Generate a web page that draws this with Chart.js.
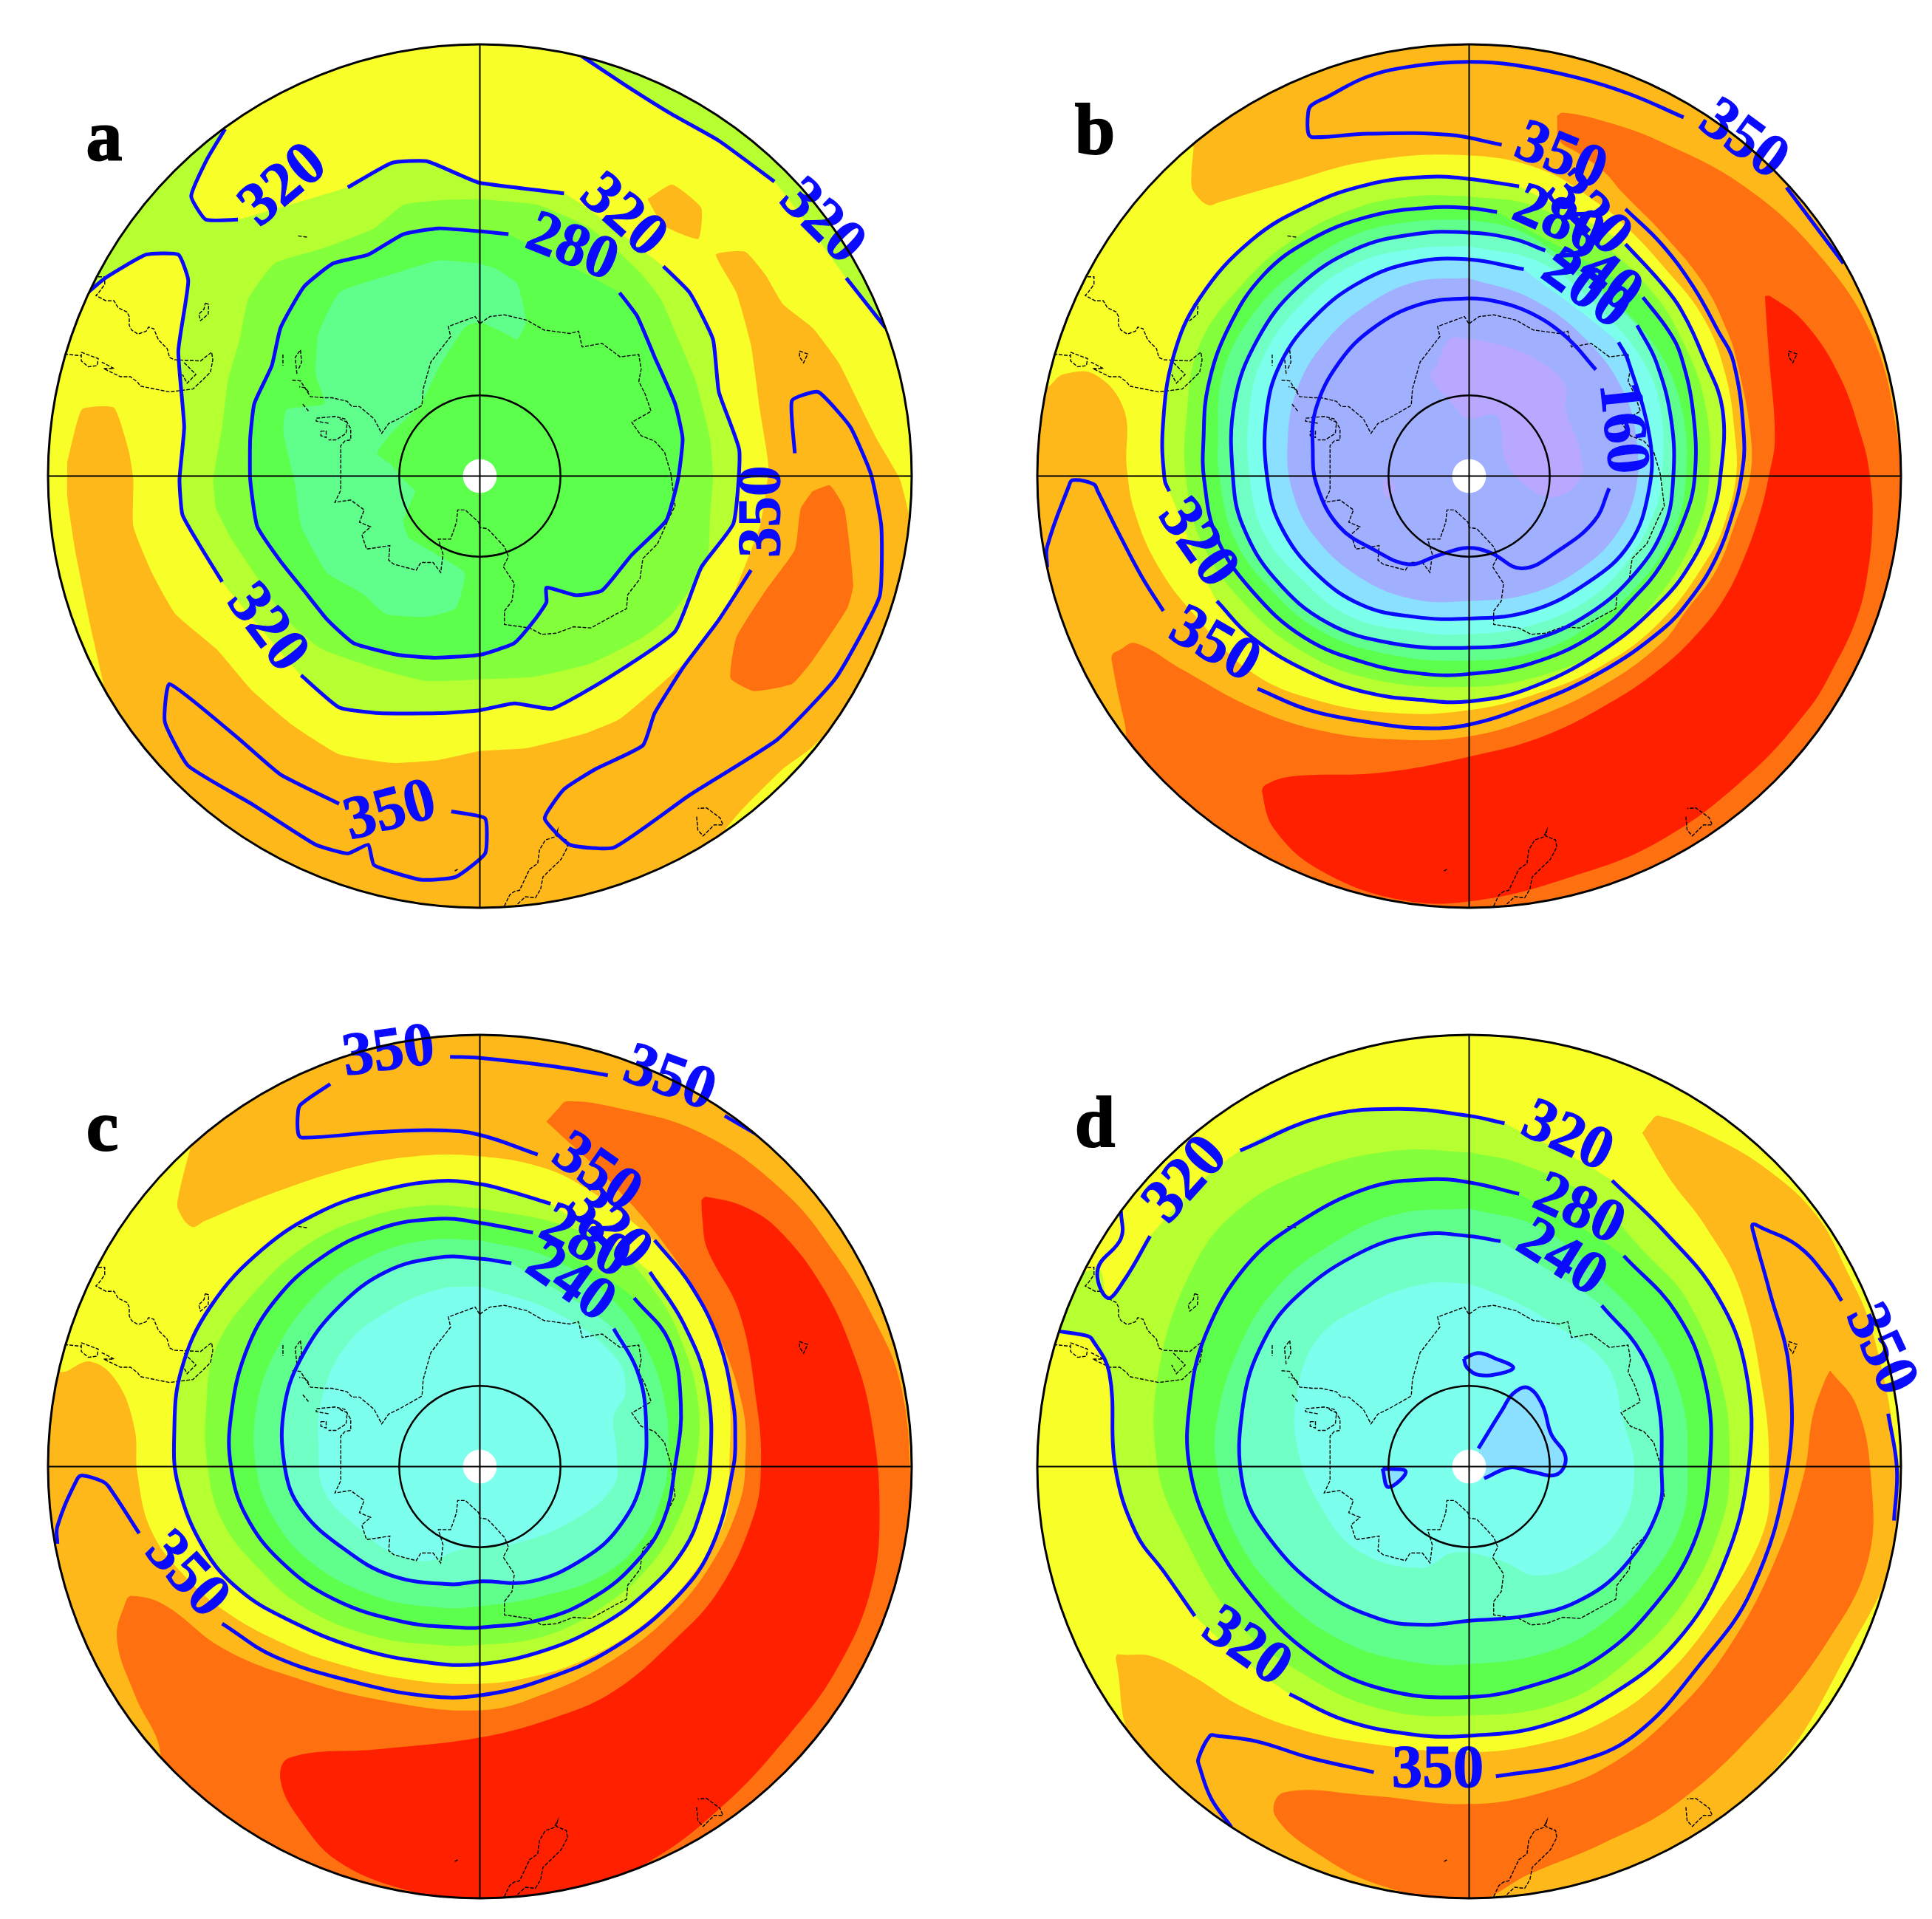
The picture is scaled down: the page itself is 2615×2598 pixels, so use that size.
<!DOCTYPE html>
<html>
<head>
<meta charset="utf-8">
<title>Polar maps a-d</title>
<style>
  html, body { margin: 0; background: #fff; }
  canvas { position: absolute; }
</style>
<script src="https://cdn.jsdelivr.net/npm/chart.js@4/dist/chart.umd.min.js"></script>
</head>
<body>
<script>
const YELLOW = "#F8FF28", ORANGE = "#FFB81A", DARK_ORANGE = "#FF7010", RED = "#FF2000";
const YGREEN = "#B6FF30", LGREEN = "#84FF3C", GREEN = "#5CFF4C", SEAFOAM = "#60FF8C";
const AQUA = "#70FFC4", CYAN = "#7CFFEC", LBLUE = "#8CE0FF", PERI = "#A0B0FF", VIOLET = "#B8A8FF";
const LINE_BLUE = "#0A0AFF";

// coast, read on panel a's grid and shared by all four maps
const coastMain = [[771,503],[788,491],[813,488],[851,497],[881,514],[925,520],[940,516],[946,543],[980,537],[1011,560],[1043,556],[1047,581],[1043,602],[1054,624],[1064,653],[1031,672],[1047,695],[1070,704],[1087,723],[1098,760],[1105,815],[1095,835],[1075,880],[1050,905],[1045,940],[1024,967],[1022,991],[999,1003],[961,1024],[931,1022],[902,1033],[877,1035],[856,1024],[813,1018],[813,995],[826,978],[830,948],[811,919],[820,902],[813,885],[784,854],[771,852],[769,843],[746,822],[733,822],[731,843],[721,872],[700,872],[708,898],[704,929],[691,912],[670,912],[662,925],[624,915],[615,908],[617,883],[577,889],[569,864],[584,851],[565,843],[573,822],[550,805],[523,809],[533,788],[533,716],[533,712],[540,704],[550,702],[550,683],[540,666],[523,662],[491,665],[491,670],[514,674]];
const coastWest = [[450,600],[464,601],[481,628],[504,630],[518,630],[544,636],[552,645],[565,645],[577,655],[590,666],[603,691],[615,674],[632,666],[672,643],[674,615],[687,569],[721,525],[717,508],[763,491],[771,504]];
const coastPeninsula = [[461,580],[466,569],[464,548],[455,561],[458,590]];
const coastIsle1 = [[434,556],[434,575]];
const coastTip = [[478,620],[472,613],[462,611]];
const coastBay = [[468,641],[478,653]];
const coastRonne = [[531,666],[544,672],[542,691],[525,702],[512,702]];
const coastBerkner = [[499,687],[508,687],[508,698],[499,695],[499,687]];
const coastAmerica = [[118,423],[129,423],[129,436],[118,451],[114,455],[131,464],[145,464],[152,476],[167,483],[171,491],[171,506],[175,514],[186,521],[200,516],[204,509],[213,512],[221,531],[236,546],[240,561],[249,565],[293,567],[312,552],[314,565],[310,586],[295,601],[280,615],[240,620],[190,610],[185,603],[173,594],[156,594],[127,580],[145,580],[124,569]];
const coastChile = [[60,555],[88,558]];
const coastFalkland = [[89,552],[118,563],[116,575],[101,577],[89,567],[89,552]];
const coastFuego = [[265,570],[285,590],[270,605],[262,590]];
const coastGeorgia = [[301,468],[307,470],[306,487],[293,498],[290,487],[299,478],[301,468]];
const coastZealand = [[813,1500],[822,1481],[830,1475],[839,1473],[856,1437],[870,1427],[873,1404],[883,1387],[898,1382],[904,1370],[902,1380],[919,1387],[921,1399],[910,1420],[879,1450],[875,1471],[866,1486],[849,1484],[832,1500]];
const coastTasmania = [[1142,1347],[1144,1370],[1153,1380],[1172,1361],[1187,1361],[1182,1349],[1159,1332],[1144,1333]];
const coastAfrica = [[1318,550],[1332,555],[1325,570],[1318,560],[1318,550]];
const coastIsle2 = [[460,353],[475,355]];
const coastIsle3 = [[728,1440],[733,1437]];
const coastLines = [coastMain, coastWest, coastPeninsula, coastIsle1, coastTip, coastBay, coastRonne, coastBerkner, coastAmerica, coastChile, coastFalkland, coastFuego, coastGeorgia, coastZealand, coastTasmania, coastAfrica, coastIsle2, coastIsle3];

// ---- panel a
const a320Corner = [[335,170],[305,220],[277,285],[302,325],[357,325]];
const a320Top = [[545,270],[620,228],[680,225],[740,250],[770,262],[915,280]];
const a320Right = [[1085,405],[1130,450],[1170,530],[1180,620],[1215,720],[1205,845],[1150,920],[1105,1030],[990,1110],[895,1162],[830,1153],[770,1165],[700,1170],[600,1170],[530,1160],[465,1105]];
const a320Left = [[330,945],[290,880],[262,830],[257,770],[265,680],[255,550],[272,430],[255,385],[200,385],[130,425],[100,450]];
const a320Far1 = [[945,45],[1020,95],[1100,145],[1180,190],[1275,260]];
const a320Far2 = [[1398,425],[1465,510]];
const a280 = [[820,350],[771,345],[700,340],[640,350],[580,385],[520,400],[470,440],[430,510],[415,575],[385,640],[378,700],[378,770],[390,850],[430,910],[470,960],[510,1010],[555,1050],[630,1070],[695,1075],[771,1070],[830,1050],[865,1010],[885,980],[885,955],[935,968],[980,960],[1030,900],[1090,840],[1110,770],[1118,700],[1105,640],[1070,560],[1040,490],[1010,450]];
const a350Right = [[1235,925],[1180,1010],[1120,1090],[1070,1170],[1050,1225],[970,1265],[915,1300],[882,1350],[925,1395],[1000,1400],[1130,1310],[1280,1215],[1380,1110],[1455,970],[1458,850],[1440,760],[1405,680],[1350,620],[1305,635],[1310,725]];
const a350Left = [[530,1325],[430,1275],[360,1215],[240,1120],[232,1185],[272,1260],[380,1325],[490,1395],[545,1410],[580,1395],[590,1430],[670,1455],[730,1450],[780,1410],[780,1350],[722,1338]];
const aOrange = [[65,740],[90,650],[145,647],[170,720],[178,770],[178,850],[210,930],[250,1000],[320,1060],[380,1130],[450,1190],[530,1240],[620,1255],[700,1250],[770,1235],[850,1230],[950,1205],[1010,1180],[1070,1130],[1130,1075],[1190,1000],[1250,850],[1265,750],[1250,650],[1235,540],[1210,450],[1175,385],[1225,380],[1260,420],[1290,470],[1340,510],[1385,570],[1420,640],[1450,700],[1490,770],[1510,860],[1490,1000],[1420,1140],[1340,1228],[1290,1265],[1215,1340],[1100,1480],[1000,1560],[500,1560],[300,1400],[150,1200],[110,1045],[80,900],[65,800]];
const aOrangeSmall = [[1058,290],[1100,265],[1150,305],[1145,358],[1085,335]];
const aDarkOrange = [[1340,790],[1370,780],[1395,820],[1410,950],[1400,990],[1340,1080],[1305,1120],[1240,1132],[1200,1110],[1210,1040],[1260,960],[1310,890],[1320,820]];
const aYGreenMain = [].concat(a320Top, a320Right, a320Left, [[40,250],[250,80]], a320Corner);
const aYGreenFar = [].concat(a320Far1, a320Far2, [[1560,450],[1400,100],[1000,-20]]);
const aLGreen = [[770,290],[700,292],[640,300],[590,340],[500,375],[420,400],[375,460],[360,530],[340,600],[330,680],[315,770],[320,820],[345,870],[385,930],[440,1010],[500,1060],[600,1095],[680,1115],[771,1112],[860,1108],[960,1085],[1050,1040],[1100,1000],[1160,910],[1165,830],[1170,770],[1165,700],[1140,600],[1115,540],[1080,460],[1040,410],[960,340],[870,300]];
const aSeafoam = [[770,400],[700,395],[600,425],[530,450],[495,520],[490,590],[505,640],[440,650],[435,690],[455,780],[465,850],[510,930],[570,965],[610,1000],[680,1005],[730,990],[745,930],[700,900],[650,870],[640,840],[660,790],[640,770],[620,745],[595,725],[620,690],[670,640],[700,580],[745,510],[770,500],[815,520],[835,530],[850,500],[835,435],[800,410]];
const aLabels = [["320",436,268,-40],["320",1015,320,42],["280",928,375,22],["320",1355,330,45],["350",1256,825,-90],["320",405,1025,53],["350",618,1340,-15]];

// ---- panel b
const b350Top = [[1143,150],[1050,110],[960,82],[850,60],[771,55],[680,62],[600,80],[530,115],[502,130],[497,142],[497,176],[505,184],[600,178],[740,180],[830,197]];
const b350Far = [[1320,270],[1418,400]];
const b350Corner = [[248,995],[210,935],[165,850],[135,790],[128,778],[92,771],[85,782],[48,885],[48,920]];
const b350Ring = [[410,1128],[500,1165],[600,1185],[680,1195],[771,1190],[880,1155],[1000,1100],[1105,1028],[1155,974],[1198,906],[1227,830],[1242,767],[1247,700],[1229,569],[1202,515],[1159,439],[1105,367],[1043,307]];
const b320Left = [[860,268],[771,255],[700,252],[600,265],[500,300],[400,360],[310,460],[265,560],[247,680],[250,770],[258,790]];
const b320Right = [[340,978],[400,1040],[500,1100],[600,1135],[700,1148],[771,1150],[870,1130],[1000,1065],[1105,978],[1160,906],[1191,835],[1206,767],[1210,650],[1177,560],[1139,480],[1105,434],[1043,367]];
const b280 = [[822,312],[771,305],[700,305],[600,320],[500,360],[420,420],[360,510],[325,610],[317,700],[318,770],[340,870],[400,960],[490,1040],[600,1085],[700,1103],[771,1103],[880,1085],[990,1035],[1060,970],[1105,915],[1145,835],[1162,767],[1160,660],[1139,560],[1117,515],[1073,458]];
const b240 = [[905,378],[850,358],[771,347],[680,350],[580,375],[480,440],[410,530],[370,640],[368,770],[385,850],[440,940],[530,1015],[640,1050],[771,1058],[880,1045],[980,1000],[1060,930],[1110,850],[1125,770],[1122,670],[1096,569],[1063,506]];
const b200 = [[868,410],[771,393],[680,398],[590,430],[510,490],[450,570],[425,660],[427,770],[450,850],[510,930],[590,985],[680,1005],[771,1008],[880,995],[980,945],[1050,880],[1083,790],[1085,700],[1047,565],[1031,535]];
const b160 = [[992,582],[940,525],[880,485],[820,465],[771,460],[690,470],[610,510],[550,570],[510,650],[505,720],[512,780],[550,850],[610,890],[670,915],[720,900],[770,887],[810,895],[865,922],[930,890],[990,840],[1015,785]];
const bYellow = [[300,200],[296,262],[302,280],[325,300],[345,295],[450,265],[600,225],[770,215],[900,240],[1000,300],[1045,338],[1108,405],[1177,493],[1215,590],[1232,700],[1233,767],[1215,840],[1189,898],[1105,1011],[1000,1090],[880,1140],[770,1165],[650,1170],[520,1150],[400,1100],[300,1000],[240,920],[200,830],[185,750],[180,650],[130,590],[75,590],[45,610],[10,500],[150,200]];
const bDarkOrange = [[925,148],[935,142],[1000,155],[1100,190],[1250,270],[1380,390],[1470,530],[1510,690],[1515,800],[1500,950],[1420,1130],[1300,1290],[1150,1420],[1000,1490],[800,1530],[500,1520],[200,1250],[180,1180],[160,1085],[160,1070],[172,1062],[200,1050],[280,1095],[400,1160],[520,1200],[650,1215],[771,1210],[880,1180],[1000,1125],[1105,1050],[1147,995],[1198,927],[1231,847],[1257,767],[1258,690],[1235,569],[1219,518],[1177,434],[1108,350],[1037,278],[1007,244],[960,210],[930,190]];
const bRed = [[1283,456],[1292,456],[1350,500],[1410,590],[1450,700],[1464,767],[1468,843],[1458,940],[1439,1012],[1401,1092],[1358,1163],[1250,1280],[1100,1390],[950,1450],[790,1490],[660,1490],[520,1440],[440,1370],[418,1305],[425,1292],[470,1278],[620,1272],[771,1245],[900,1210],[1020,1150],[1105,1092],[1160,1041],[1210,978],[1248,902],[1276,822],[1289,767],[1300,700],[1290,560],[1285,490]];
const bYGreen = [].concat(b320Left, b320Right);
const bLGreen = [[771,285],[680,285],[580,305],[470,360],[380,440],[310,540],[288,660],[287,770],[315,880],[385,980],[480,1060],[600,1110],[771,1125],[900,1105],[1010,1055],[1100,970],[1165,860],[1187,770],[1180,640],[1140,530],[1090,450],[1000,365],[880,300]];
const bSeafoam = [[771,325],[680,328],[580,350],[480,410],[400,490],[350,590],[342,700],[345,770],[370,870],[430,955],[520,1030],[640,1070],[771,1080],[890,1065],[990,1015],[1070,945],[1125,860],[1147,770],[1140,650],[1100,550],[1030,470],[920,380],[850,340]];
const bCyan = [[771,370],[680,375],[580,400],[490,465],[420,560],[395,660],[397,770],[420,860],[480,935],[570,1005],[680,1030],[771,1035],[880,1020],[980,975],[1050,905],[1095,820],[1105,770],[1105,660],[1075,570],[1000,480],[900,400]];
const bPeri = [[771,425],[680,432],[600,470],[530,530],[480,610],[462,700],[470,790],[510,870],[590,940],[680,975],[771,978],[880,965],[970,920],[1030,860],[1060,790],[1063,710],[1040,620],[975,530],[880,460]];
const bViolet = [[771,528],[740,530],[718,575],[708,595],[745,640],[771,665],[820,660],[830,690],[835,735],[870,780],[920,800],[965,770],[965,720],[940,650],[940,610],[900,570],[830,540]];
const bVioletSmall = [[625,770],[640,770],[645,790],[630,800]];
const bLabels = [["350",1245,190,36],["350",931,219,22],["320",978,316,45],["280",927,329,24],["240",994,417,38],["200",974,446,36],["160",1035,682,84],["320",305,880,55],["350",335,1055,30]];

// ---- panel c
const c350Top = [[990,110],[900,95],[771,80],[720,78]];
const c350Inner = [[515,125],[465,160],[460,172],[460,210],[468,218],[600,208],[700,205],[771,213],[870,247]];
const c350Far = [[1190,180],[1250,215]];
const c350Corner = [[188,902],[135,820],[125,812],[92,802],[82,808],[48,890],[48,920]];
const c350Ring = [[330,1058],[420,1115],[560,1160],[680,1183],[771,1182],[880,1155],[1000,1100],[1110,1010],[1170,920],[1205,786],[1208,730],[1205,680],[1180,570],[1130,470],[1070,395]];
const c320 = [[892,332],[820,310],[771,298],[700,293],[600,310],[500,345],[400,410],[310,510],[260,620],[248,730],[255,820],[300,930],[360,1000],[440,1050],[560,1100],[680,1125],[771,1128],[880,1105],[980,1060],[1060,1000],[1120,930],[1150,860],[1165,786],[1160,650],[1120,540],[1062,450]];
const c280 = [[862,382],[771,365],[700,358],[600,375],[500,425],[420,500],[370,590],[345,700],[345,786],[370,870],[430,950],[520,1015],[640,1055],[740,1065],[771,1065],[880,1050],[970,1010],[1040,950],[1085,880],[1105,786],[1115,680],[1095,570],[1035,495]];
const c240 = [[825,435],[771,427],[700,425],[610,450],[530,510],[470,590],[437,680],[437,786],[465,860],[540,930],[620,975],[720,990],[771,985],[860,985],[950,945],[1010,890],[1048,810],[1055,700],[1040,620],[1000,548]];
const cYellow = [[285,200],[254,325],[256,345],[278,372],[300,362],[400,320],[550,270],[660,250],[771,250],[880,270],[960,310],[1040,370],[1090,420],[1160,520],[1195,640],[1198,786],[1190,880],[1130,980],[1050,1060],[950,1120],[860,1150],[771,1162],[650,1155],[520,1125],[430,1090],[340,1040],[270,980],[210,900],[185,800],[180,720],[150,640],[105,605],[50,620],[10,500],[150,220]];
const cDarkOrange = [[885,190],[905,168],[920,155],[1000,165],[1150,210],[1290,310],[1380,420],[1450,540],[1490,640],[1507,786],[1500,900],[1470,1030],[1400,1180],[1300,1310],[1180,1420],[1060,1490],[950,1545],[200,1560],[225,1290],[180,1180],[150,1085],[165,1020],[175,1010],[230,1025],[330,1100],[450,1150],[600,1190],[771,1208],[880,1180],[1000,1120],[1100,1040],[1170,950],[1215,850],[1225,786],[1220,680],[1170,540],[1100,420],[1000,300]];
const cRed = [[1150,326],[1158,320],[1230,340],[1290,385],[1360,480],[1410,590],[1440,700],[1455,860],[1440,1000],[1380,1140],[1300,1250],[1190,1370],[1060,1470],[950,1510],[771,1540],[650,1520],[530,1470],[465,1400],[430,1330],[445,1290],[600,1275],[771,1255],[900,1220],[1000,1175],[1100,1090],[1180,1000],[1240,870],[1252,786],[1245,680],[1215,520],[1160,410],[1152,360]];
const cLGreen = [[771,340],[680,335],[580,355],[480,400],[390,480],[320,580],[303,680],[305,786],[330,880],[390,960],[470,1030],[590,1080],[700,1095],[771,1095],[880,1080],[980,1030],[1060,960],[1110,880],[1140,786],[1145,680],[1120,580],[1075,490],[1000,410],[900,365]];
const cSeafoam = [[771,395],[680,395],[580,425],[490,490],[420,590],[388,690],[388,786],[415,870],[480,950],[590,1010],[700,1030],[771,1028],[880,1010],[980,975],[1050,910],[1085,830],[1092,786],[1090,690],[1060,590],[1000,500],[890,425]];
const cCyan = [[771,475],[700,480],[610,520],[540,580],[500,670],[495,750],[505,830],[560,890],[620,935],[680,950],[740,930],[830,920],[930,880],[1000,820],[1005,760],[1000,700],[1020,660],[1005,600],[900,520]];
const cLabels = [["350",615,72,-8],["350",1095,118,20],["350",970,280,35],["320",990,375,45],["280",950,400,28],["240",925,470,35],["350",268,975,48]];

// ---- panel d
const d320Top = [[835,193],[774,180],[650,168],[520,182],[380,240]];
const d320Corner = [[225,388],[180,465],[152,495],[135,445],[175,392],[175,345]];
const d320Left = [[65,552],[115,560],[125,566],[155,625],[165,787],[200,900],[250,970],[302,1045]];
const d320Right = [[465,1180],[560,1225],[680,1250],[774,1252],[900,1235],[1020,1180],[1130,1090],[1210,960],[1255,787],[1250,620],[1200,490],[1110,380],[1020,292]];
const d280 = [[860,315],[774,295],[700,290],[600,305],[480,365],[390,440],[320,560],[293,680],[293,787],[330,900],[400,1010],[500,1110],[620,1170],[774,1185],[900,1160],[1000,1115],[1090,1030],[1160,920],[1188,787],[1180,640],[1130,520],[1040,422]];
const d240 = [[828,397],[774,388],[690,385],[590,415],[480,490],[420,570],[385,680],[385,820],[430,910],[520,1000],[620,1050],[700,1060],[774,1053],[870,1045],[960,1020],[1040,960],[1100,860],[1105,787],[1100,680],[1070,590],[1002,508]];
const d350Left = [[610,1315],[500,1290],[410,1262],[340,1252],[328,1252],[308,1292],[310,1305],[330,1360],[365,1410]];
const d350Right = [[820,1322],[950,1300],[1060,1250],[1170,1130],[1260,1000],[1320,800],[1325,620],[1290,480],[1264,385],[1262,368],[1278,374],[1340,405],[1390,460],[1415,500]];
const d350Far = [[1495,695],[1510,790],[1505,880]];
const dLowA = [[765,600],[790,590],[820,600],[850,615],[830,625],[790,628],[770,615],[765,600]];
const dLowB = [[790,755],[830,690],[850,660],[875,650],[900,680],[915,730],[940,770],[925,800],[880,795],[845,788],[800,807]];
const dLowC = [[625,790],[665,795],[635,822],[625,790]];
const dOrange = [[1072,210],[1085,192],[1100,180],[1200,220],[1290,275],[1370,350],[1420,440],[1470,560],[1510,790],[1500,950],[1430,1100],[1300,1310],[1100,1480],[900,1550],[774,1560],[550,1520],[360,1410],[200,1270],[167,1125],[168,1112],[180,1112],[230,1115],[300,1150],[380,1200],[480,1240],[600,1265],[774,1280],[900,1265],[1000,1230],[1100,1160],[1200,1040],[1280,900],[1290,787],[1280,660],[1240,480],[1180,370],[1120,290]];
const dDarkOrange = [[1395,620],[1440,680],[1465,800],[1460,950],[1390,1090],[1280,1230],[1130,1370],[1000,1440],[880,1490],[774,1540],[620,1510],[520,1460],[440,1390],[455,1350],[600,1355],[774,1370],[900,1350],[1020,1300],[1130,1210],[1220,1100],[1300,950],[1350,800],[1365,700],[1385,640]];
const dYGreen = [].concat(d320Top, [[225,388],[180,465],[152,495],[135,445],[50,500]], d320Left, d320Right);
const dLGreen = [[774,243],[650,240],[500,275],[380,340],[300,440],[240,620],[238,787],[280,900],[370,1050],[480,1140],[620,1205],[774,1217],[930,1195],[1050,1120],[1150,1010],[1210,880],[1222,787],[1210,650],[1150,500],[1080,420],[980,320],[860,262]];
const dSeafoam = [[774,340],[650,350],[540,400],[440,480],[370,600],[338,720],[340,787],[370,900],[450,1010],[560,1090],[680,1125],[774,1128],[900,1110],[1000,1060],[1090,970],[1140,880],[1150,787],[1140,670],[1090,560],[1010,470],[900,375]];
const dCyan = [[774,470],[700,470],[600,505],[510,570],[475,680],[480,760],[510,840],[580,930],[690,962],[750,935],[830,950],[890,975],[970,950],[1040,880],[1058,787],[1040,710],[1010,610],[920,540],[850,500]];
const dLabels = [["320",288,292,-48],["320",942,218,25],["280",962,344,25],["240",932,428,32],["320",390,1100,35],["350",720,1313,0],["350",1480,585,65]];

const panels = [
  { letter: "a", letterAt: [128, 190], left: 65, top: 60, xRange: [32, 1510], yRange: [25, 1503], base: YELLOW, tension: 0.15,
    fills: [[aOrange, ORANGE], [aOrangeSmall, ORANGE], [aDarkOrange, DARK_ORANGE], [aYGreenFar, YGREEN], [aYGreenMain, YGREEN], [aLGreen, LGREEN], [a280, GREEN], [aSeafoam, SEAFOAM]],
    lines: [a320Corner, a320Top, a320Right, a320Left, a320Far1, a320Far2, a280, a350Right, a350Left], labels: aLabels },
  { letter: "b", letterAt: [130, 180], left: 1404, top: 60, xRange: [31, 1517], yRange: [25, 1503], base: ORANGE, tension: 0.4,
    fills: [[bDarkOrange, DARK_ORANGE], [bRed, RED], [bYellow, YELLOW], [bYGreen, YGREEN], [bLGreen, LGREEN], [b280, GREEN], [bSeafoam, SEAFOAM], [b240, AQUA], [bCyan, CYAN], [b200, LBLUE], [bPeri, PERI], [bViolet, VIOLET], [bVioletSmall, VIOLET]],
    lines: [b350Top, b350Far, b350Corner, b350Ring, b320Left, b320Right, b280, b240, b200, b160], labels: bLabels },
  { letter: "c", letterAt: [125, 207], left: 65, top: 1401, xRange: [32, 1510], yRange: [40, 1533], base: ORANGE, tension: 0.4,
    fills: [[cDarkOrange, DARK_ORANGE], [cRed, RED], [cYellow, YELLOW], [c320, YGREEN], [cLGreen, LGREEN], [c280, GREEN], [cSeafoam, SEAFOAM], [c240, AQUA], [cCyan, CYAN]],
    lines: [c350Top, c350Inner, c350Far, c350Corner, c350Ring, c320, c280, c240], labels: cLabels },
  { letter: "d", letterAt: [130, 200], left: 1404, top: 1401, xRange: [31, 1517], yRange: [40, 1533], base: YELLOW, tension: 0.4,
    fills: [[dOrange, ORANGE], [dDarkOrange, DARK_ORANGE], [dYGreen, YGREEN], [dLGreen, LGREEN], [d280, GREEN], [dSeafoam, SEAFOAM], [d240, AQUA], [dCyan, CYAN], [dLowA, LBLUE], [dLowB, LBLUE], [dLowC, LBLUE]],
    lines: [d320Top, d320Corner, d320Left, d320Right, d280, d240, d350Left, d350Right, d350Far, dLowA, dLowB, dLowC], labels: dLabels }
];

const toXY = pts => pts.map(p => ({ x: p[0], y: p[1] }));

// rim, 80S ring, pole and cross live on the shared coast grid
const POLE = [771, 764], RIM = 739, RING = 138, POLE_R = 29;

const mapDecor = {
  id: "mapDecor",
  beforeDatasetsDraw(chart, args, opts) {
    const { ctx, scales: { xCoast, yCoast } } = chart;
    const cx = xCoast.getPixelForValue(POLE[0]), cy = yCoast.getPixelForValue(POLE[1]);
    const r = xCoast.getPixelForValue(POLE[0] + RIM) - cx;
    ctx.save();
    ctx.beginPath();
    ctx.arc(cx, cy, r, 0, Math.PI * 2);
    ctx.fillStyle = opts.base;
    ctx.fill();
    ctx.clip();
  },
  afterDatasetsDraw(chart, args, opts) {
    const { ctx, scales: { x, y, xCoast, yCoast } } = chart;
    ctx.restore();
    const cx = xCoast.getPixelForValue(POLE[0]), cy = yCoast.getPixelForValue(POLE[1]);
    const unit = (xCoast.getPixelForValue(POLE[0] + 100) - cx) / 100;

    ctx.beginPath();
    ctx.arc(cx, cy, POLE_R * unit, 0, Math.PI * 2);
    ctx.fillStyle = "#fff";
    ctx.fill();

    ctx.fillStyle = LINE_BLUE;
    ctx.strokeStyle = LINE_BLUE;
    ctx.lineWidth = 1.2;
    ctx.font = 'bold 83px "Liberation Serif"';
    ctx.textAlign = "center";
    ctx.textBaseline = "middle";
    opts.labels.forEach(([txt, lx, ly, deg]) => {
      ctx.save();
      ctx.translate(x.getPixelForValue(lx), y.getPixelForValue(ly));
      ctx.rotate(deg * Math.PI / 180);
      ctx.fillText(txt, 0, 0);
      ctx.strokeText(txt, 0, 0);
      ctx.restore();
    });

    ctx.strokeStyle = "#000";
    ctx.lineWidth = 2;
    ctx.beginPath();
    ctx.moveTo(cx, cy - RIM * unit);
    ctx.lineTo(cx, cy + RIM * unit);
    ctx.moveTo(cx - RIM * unit, cy);
    ctx.lineTo(cx + RIM * unit, cy);
    ctx.stroke();

    ctx.lineWidth = 2.5;
    ctx.beginPath();
    ctx.arc(cx, cy, RING * unit, 0, Math.PI * 2);
    ctx.stroke();
    ctx.lineWidth = 3;
    ctx.beginPath();
    ctx.arc(cx, cy, RIM * unit, 0, Math.PI * 2);
    ctx.stroke();

    ctx.fillStyle = "#000";
    ctx.strokeStyle = "#000";
    ctx.lineWidth = 2;
    ctx.font = 'bold 98px "Liberation Serif"';
    ctx.fillText(opts.letter, x.getPixelForValue(opts.letterAt[0]), y.getPixelForValue(opts.letterAt[1]));
    ctx.strokeText(opts.letter, x.getPixelForValue(opts.letterAt[0]), y.getPixelForValue(opts.letterAt[1]));
  }
};

const PAD = 60, SIZE = 1169;

panels.forEach(p => {
  const canvas = document.createElement("canvas");
  canvas.width = canvas.height = SIZE + PAD * 2;
  canvas.style.left = (p.left - PAD) + "px";
  canvas.style.top = (p.top - PAD) + "px";
  document.body.appendChild(canvas);

  const datasets = [];
  p.fills.forEach(([pts, color]) => {
    datasets.push({
      data: toXY(pts.concat([pts[0]])),
      showLine: true, fill: "shape", backgroundColor: color,
      borderWidth: 0, borderColor: color, pointRadius: 0,
      tension: p.tension, capBezierPoints: false
    });
  });
  coastLines.forEach(pts => {
    datasets.push({
      data: toXY(pts), xAxisID: "xCoast", yAxisID: "yCoast",
      showLine: true, fill: false, borderColor: "#000", borderWidth: 1.4,
      borderDash: [5, 2], pointRadius: 0, tension: 0
    });
  });
  p.lines.forEach(pts => {
    datasets.push({
      data: toXY(pts), showLine: true, fill: false,
      borderColor: LINE_BLUE, borderWidth: 5, pointRadius: 0,
      tension: p.tension, capBezierPoints: false, borderJoinStyle: "round"
    });
  });
  datasets.forEach((d, i) => { d.order = -i; });

  new Chart(canvas, {
    type: "scatter",
    data: { datasets },
    plugins: [mapDecor],
    options: {
      responsive: false,
      animation: false,
      devicePixelRatio: 1,
      layout: { padding: PAD },
      plugins: {
        legend: { display: false },
        tooltip: { enabled: false },
        mapDecor: { base: p.base, labels: p.labels, letter: p.letter, letterAt: p.letterAt }
      },
      scales: {
        x: { type: "linear", display: false, min: p.xRange[0], max: p.xRange[1] },
        y: { type: "linear", display: false, reverse: true, min: p.yRange[0], max: p.yRange[1] },
        xCoast: { type: "linear", axis: "x", display: false, min: 32, max: 1510 },
        yCoast: { type: "linear", axis: "y", display: false, reverse: true, min: 25, max: 1503 }
      }
    }
  });
});
</script>
</body>
</html>
